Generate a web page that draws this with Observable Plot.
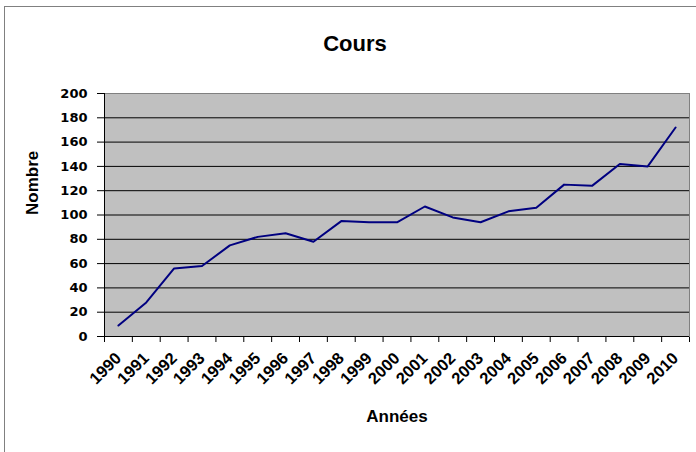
<!DOCTYPE html>
<html>
<head>
<meta charset="utf-8">
<script src="https://cdn.jsdelivr.net/npm/d3@7"></script>
<script src="https://cdn.jsdelivr.net/npm/@observablehq/plot@0.6"></script>
<style>
  html, body { margin: 0; padding: 0; background: #fff; }
  #wrap { position: relative; width: 696px; height: 452px; }
  #border { position: absolute; left: 4px; top: 6px; width: 692px; height: 446px;
            border-left: 1px solid #808080; border-top: 1px solid #808080; box-sizing: border-box; pointer-events: none; }
</style>
</head>
<body>
<div id="wrap"><div id="border"></div></div>
<script>
const years = [1990, 1991, 1992, 1993, 1994, 1995, 1996, 1997, 1998, 1999, 2000,
               2001, 2002, 2003, 2004, 2005, 2006, 2007, 2008, 2009, 2010];
const values = [9, 28, 56, 58, 75, 82, 85, 78, 95, 94, 94,
                107, 98, 94, 103, 106, 125, 124, 142, 140, 172];
const yTicks = [0, 20, 40, 60, 80, 100, 120, 140, 160, 180, 200];
const title = "Cours";
const xLabel = "Années";
const yLabel = "Nombre";

const data = years.map((yr, i) => ({year: yr, value: values[i]}));
const bounds = [years[0] - 0.5, ...years.map(y => y + 0.5)];

const labelFont = "'Liberation Sans', Arial, sans-serif";

const chart = Plot.plot({
  width: 696,
  height: 452,
  marginTop: 93,
  marginRight: 7,
  marginBottom: 116,
  marginLeft: 104,
  style: {fontFamily: "'DejaVu Sans', sans-serif", fontSize: "13px", fontWeight: "bold", color: "#000", background: "transparent"},
  x: {domain: [bounds[0], bounds[bounds.length - 1]], ticks: bounds, tickSize: 6, tickFormat: () => "", label: null},
  y: {domain: [0, 200], ticks: yTicks, tickSize: 7, tickPadding: 10, tickFormat: d => String(d), label: null},
  marks: [
    Plot.frame({fill: "#c0c0c0"}),
    Plot.ruleY(yTicks.slice(1, -1), {stroke: "#000", strokeWidth: 1}),
    Plot.frame({stroke: "#808080", strokeWidth: 1}),
    Plot.ruleX([bounds[0]], {stroke: "#000"}),
    Plot.ruleY([0], {stroke: "#000"}),
    Plot.line(data, {x: "year", y: "value", stroke: "#000080", strokeWidth: 2}),
    Plot.text(years, {x: d => d, text: d => String(d), frameAnchor: "bottom", dy: 19, dx: 0,
      rotate: -45, textAnchor: "end", lineAnchor: "middle", fontSize: 16.5, fontWeight: "bold", fontFamily: labelFont}),
    Plot.text([title], {frameAnchor: "top", dx: -42, dy: -58, fontSize: 22, fontWeight: "bold", fontFamily: labelFont}),
    Plot.text([xLabel], {frameAnchor: "bottom", dy: 85, fontSize: 17, fontWeight: "bold", fontFamily: labelFont}),
    Plot.text([yLabel], {frameAnchor: "left", dx: -72, rotate: -90, fontSize: 17, fontWeight: "bold", fontFamily: labelFont})
  ]
});
document.getElementById("wrap").prepend(chart);
</script>
</body>
</html>
